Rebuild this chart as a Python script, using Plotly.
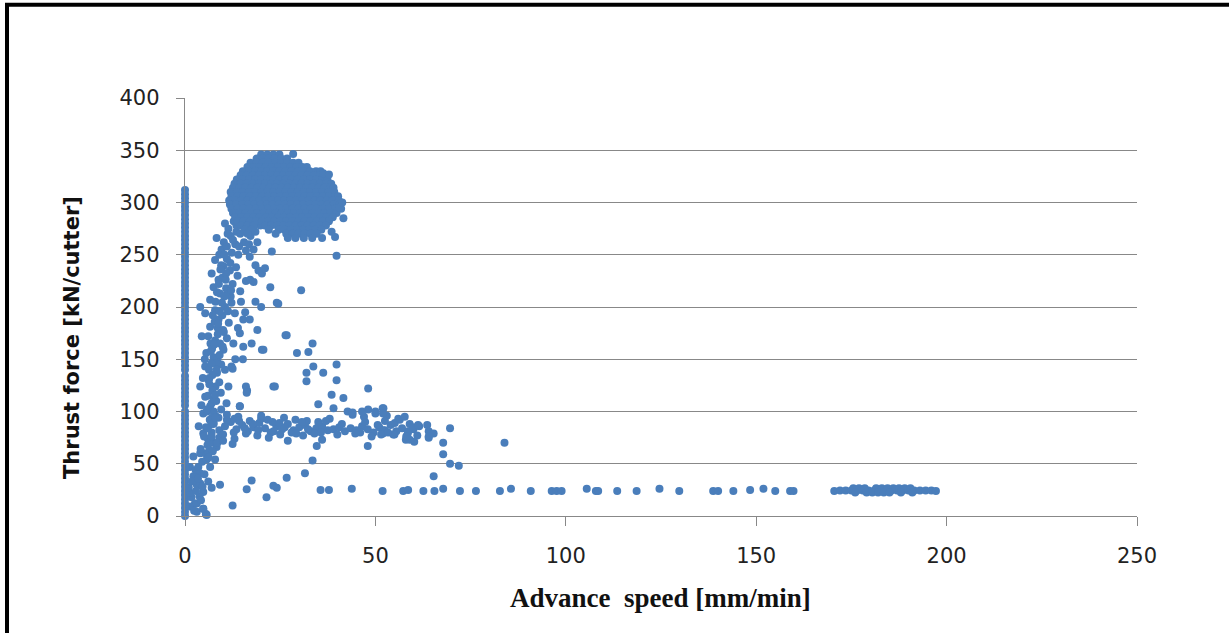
import plotly.graph_objects as go

# ---------------- data ----------------
# vertical column of points at advance speed ~0
col_y = [0, 4, 8, 12, 16, 20, 24, 28, 32, 36, 40, 44, 48, 52, 56, 60, 64, 68, 72, 76,
         80, 84, 88, 92, 96, 100, 106, 110, 114, 118, 122, 126, 130, 134, 140, 144, 148,
         152, 156, 160, 164, 168, 172, 176, 180, 184, 188, 192, 196, 200, 204, 208, 212,
         216, 220, 224, 228, 232, 236, 240, 244, 248, 252, 256, 260, 264, 268, 272, 276,
         280, 284, 288, 292, 296, 300, 304, 308, 312]
col_x = [0.0] * len(col_y)

# rising branch at low speed
branch_x = [1.3, 2.2, 3.1, 3.9, 1.7, 2.6, 4.8, 6.1, 6.6, 7.9, 5.3, 8.3, 3.1, 1.3, 7.4, 4.8, 5.7,
            2.2, 4.0, 1.4, 3.1, 5.5, 6.5, 4.5, 2.8, 9.0, 1.0, 1.8,
            8.3, 10.5, 11.4, 9.6, 7.9, 10.1, 11.8, 7.0, 8.8, 7.5, 9.2, 6.6, 4.0, 5.3, 7.9, 10.5,
            12.2, 13.1, 15.3, 17.0, 14.4, 12.7, 15.3, 8.8, 6.6, 4.4, 7.9, 10.1, 7.5, 5.3, 8.4,
            10.5, 12.2, 6.2, 4.0, 8.0, 11.4, 5.3, 6.6, 4.8, 7.5, 4.8, 6.6, 4.0, 5.7, 3.5,
            6.0, 7.0, 5.8, 6.5, 5.5, 7.0, 6.0, 8.0, 7.2, 9.0, 9.5, 8.5, 6.8, 9.2, 11.0, 10.0,
            8.6, 11.5, 9.8, 12.0, 10.8, 12.5, 9.8, 11.0, 12.3, 13.2, 10.2, 12.0, 13.5, 11.0,
            9.0, 6.3, 5.2, 7.2, 8.2, 7.5, 6.7, 8.0, 11.0, 13.8, 14.5, 16.0, 14.7, 13.9, 15.2,
            13.2, 16.3, 14.4,
            13.5, 14.5, 15.5, 16.0, 17.0, 14.2, 15.8, 17.2, 16.8, 18.5, 19.0, 18.0, 19.8, 12.8,
            14.0, 16.5,
            9.5, 10.8, 8.9, 10.3, 9.1, 7.8, 8.6, 9.9, 7.1, 8.1, 6.4, 9.4, 10.9, 7.6, 8.8, 6.9,
            5.9, 7.3, 6.2, 5.1, 4.6, 3.8, 2.9, 3.4, 4.2, 2.4,
            11.2, 12.6, 10.4, 11.9, 13.4, 9.3, 10.7, 12.1, 8.4, 9.7, 11.3, 7.3, 8.7, 10.2,
            6.1, 7.7, 9.1, 5.6, 6.9, 8.3, 4.7, 6.4, 7.9, 4.3, 5.8, 7.1, 3.6, 5.0, 6.3, 4.1]
branch_y = [47, 57, 30, 41, 18, 12, 23, 33, 47, 54, 60, 66, 4, 9, 70, 7, 1,
            38, 31, 22, 12, 2, 63, 52, 44, 75, 27, 33,
            266, 280, 275, 255, 245, 239, 235, 232, 226, 219, 213, 207, 200, 194, 197, 200,
            204, 194, 188, 188, 175, 165, 162, 188, 181, 172, 168, 159, 152, 143, 137,
            140, 143, 130, 124, 124, 124, 114, 105, 98, 89, 79, 70, 60, 54, 47,
            115, 108, 100, 92, 85, 80, 74, 96, 120, 128, 145, 150, 158, 165, 170, 178,
            180, 185, 192, 210, 218, 222, 228, 246, 252, 260, 262, 268, 272, 258,
            250, 140, 150, 135, 110, 100, 165, 205, 212, 230, 215, 225, 205, 180, 150,
            150, 120, 105,
            278, 270, 262, 254, 248, 258, 276, 268, 260, 272, 262, 255, 278, 282,
            250, 282,
            240, 232, 222, 210, 196, 186, 174, 162, 160, 146, 132, 118, 108, 112, 94, 88,
            68, 62, 56, 40, 28, 19, 24, 36, 15, 5,
            270, 264, 250, 242, 238, 236, 226, 216, 214, 204, 196, 192, 184, 176,
            172, 164, 154, 156, 146, 140, 132, 126, 116, 106, 102, 94, 86, 76, 70, 64]

# dense core at 12-42 mm/min: one x list per thrust level
core_levels = [346, 342, 338, 334, 330, 326, 322, 318, 314, 310, 306, 302, 298, 294,
               290, 286, 282, 278, 274, 270, 266]
core_rows = [
    [20.0, 21.6, 23.2, 24.8],
    [18.8, 20.4, 22.0, 23.6, 25.2, 26.8],
    [17.2, 18.8, 20.4, 22.0, 23.6, 25.2, 26.8, 28.4, 29.8],
    [16.4, 18.0, 19.6, 21.2, 22.8, 24.4, 26.0, 27.6, 29.2, 30.8, 32.0],
    [15.2, 16.8, 18.4, 20.0, 21.6, 23.2, 24.8, 26.4, 28.0, 29.6, 31.2, 32.8, 34.4, 35.6],
    [14.6, 16.2, 17.8, 19.4, 21.0, 22.6, 24.2, 25.8, 27.4, 29.0, 30.6, 32.2, 33.8, 35.4, 36.6],
    [13.6, 15.2, 16.8, 18.4, 20.0, 21.6, 23.2, 24.8, 26.4, 28.0, 29.6, 31.2, 32.8, 34.4, 36.0, 37.4],
    [13.0, 14.6, 16.2, 17.8, 19.4, 21.0, 22.6, 24.2, 25.8, 27.4, 29.0, 30.6, 32.2, 33.8, 35.4, 37.0, 38.4],
    [12.6, 14.2, 15.8, 17.4, 19.0, 20.6, 22.2, 23.8, 25.4, 27.0, 28.6, 30.2, 31.8, 33.4, 35.0, 36.6, 38.2, 39.0],
    [12.0, 13.6, 15.2, 16.8, 18.4, 20.0, 21.6, 23.2, 24.8, 26.4, 28.0, 29.6, 31.2, 32.8, 34.4, 36.0, 37.6, 39.2],
    [12.2, 13.8, 15.4, 17.0, 18.6, 20.2, 21.8, 23.4, 25.0, 26.6, 28.2, 29.8, 31.4, 33.0, 34.6, 36.2, 37.8, 39.4, 40.2],
    [11.6, 13.2, 14.8, 16.4, 18.0, 19.6, 21.2, 22.8, 24.4, 26.0, 27.6, 29.2, 30.8, 32.4, 34.0, 35.6, 37.2, 38.8, 40.4],
    [11.8, 13.4, 15.0, 16.6, 18.2, 19.8, 21.4, 23.0, 24.6, 26.2, 27.8, 29.4, 31.0, 32.6, 34.2, 35.8, 37.4, 39.0, 40.6],
    [12.2, 13.8, 15.4, 17.0, 18.6, 20.2, 21.8, 23.4, 25.0, 26.6, 28.2, 29.8, 31.4, 33.0, 34.6, 36.2, 37.8, 39.4, 41.0],
    [12.6, 14.2, 15.8, 17.4, 19.0, 20.6, 22.2, 23.8, 25.4, 27.0, 28.6, 30.2, 31.8, 33.4, 35.0, 36.6, 38.2, 39.8],
    [13.2, 14.8, 16.4, 18.0, 19.6, 21.2, 22.8, 24.4, 26.0, 27.6, 29.2, 30.8, 32.4, 34.0, 35.6, 37.2, 38.8],
    [13.8, 15.4, 17.0, 18.6, 20.2, 21.8, 23.4, 25.0, 26.6, 28.2, 29.8, 31.4, 33.0, 34.6, 36.2, 37.8],
    [14.8, 16.4, 18.0, 21.0, 22.6, 24.2, 25.8, 27.4, 29.0, 30.6, 32.2, 33.8, 35.4, 37.0],
    [15.6, 17.4, 22.0, 24.6, 26.2, 27.8, 29.4, 31.0, 32.6, 34.2, 35.8],
    [16.4, 23.8, 26.6, 28.2, 29.8, 31.4, 33.0, 34.6],
    [27.0, 29.0, 31.2, 33.4, 36.0],
]
core_extra_x = [28.4, 36.3, 37.8, 41.6, 39.4, 38.5, 40.5, 41.3]
core_extra_y = [346.5, 328, 326.8, 285, 267, 272, 295, 300]

# scattered points between the core and the band
scatter_x = [19.3, 20.2, 17.1, 18.0, 22.4, 24.1, 30.5, 26.4, 20.2, 16.0, 23.2, 24.5, 26.7, 20.6,
             29.4, 32.4, 33.5, 31.9, 31.9, 33.7, 36.3, 39.8, 39.8, 38.5, 41.6, 48.1, 42.7, 23.6,
             16.2, 14.4, 12.5, 22.8, 39.8, 18.5, 21.0, 20.0, 19.0, 17.5, 15.8, 18.5]
scatter_y = [235, 232, 226, 224, 219, 204, 216, 173, 159, 124, 124, 203, 173, 159,
             156, 157, 165, 137, 129, 143, 137, 145, 130, 116, 113, 122, 100, 124,
             118, 105, 141, 253, 249, 240, 237, 200, 178, 165, 195, 205]

# band of points around 80-95 kN
band_x = [6, 7.5, 9, 10.5, 12, 13.5, 15, 16.5, 18, 19.5, 21, 22.5, 24, 25.5, 27, 28.5, 30, 31.5,
          33, 34.5, 36, 37.5, 39, 40.5, 42, 43.5, 45, 46.5, 48, 49.5, 51, 52.5, 54, 55.5, 57,
          58.5, 60, 61.5,
          8, 11, 14, 17, 20, 23, 26, 29, 32, 35, 38, 44, 47, 50, 53, 56, 59,
          7, 10, 13, 16, 19, 22, 25, 28, 31, 34, 40, 46, 49, 52, 55, 58, 61, 64,
          51.9, 52.0, 52.5, 51.5, 54.7, 55.1, 56.4, 57.7, 58.6, 59.9, 61.2, 59.0, 60.2, 58.1,
          63.6, 64.0, 65.3, 64.0, 69.6, 67.8, 67.8, 69.6, 71.9, 65.3, 83.9, 48.1, 52.1, 46.5,
          48.0, 34.6, 33.5, 31.5, 26.7, 24.1, 23.2, 21.4, 17.5, 16.2, 12.5, 7.0, 9.2, 5.5,
          4.8, 52, 50, 44, 39, 35, 11, 9.5, 13, 20, 8.5, 10, 12.5, 27, 36,
          12.8, 14.2, 15.7, 17.8, 19.2, 21.7, 23.3, 24.8, 26.2, 29.2, 30.7, 32.3, 35.7, 37.0,
          41.2, 44.7, 47.3, 50.6, 53.3]
band_y = [84, 88, 82, 86, 90, 83, 87, 81, 85, 89, 84, 80, 86, 83, 88, 82, 85, 87,
          81, 84, 86, 82, 83, 85, 81, 84, 82, 86, 83, 80, 85, 82, 87, 81, 84,
          79, 83, 86,
          94, 92, 95, 91, 93, 90, 94, 92, 91, 90, 93, 97, 95, 98, 96, 93, 88,
          76, 78, 74, 79, 77, 75, 78, 80, 77, 79, 78, 80, 76, 79, 78, 73, 77, 75,
          103, 82, 91, 78, 78, 89, 92, 95, 81, 85, 87, 73, 71, 76,
          87, 81, 79, 76, 84, 70, 59, 50, 48, 38, 70, 102, 103, 100,
          67, 67, 53, 41, 36.5, 27, 29, 18, 34, 25.5, 10, 27, 30, 1.6,
          7, 98, 100, 99, 103, 107, 97, 102, 93, 96, 70, 72, 69, 72, 73,
          80, 91, 84, 88, 82, 92, 81, 89, 85, 79, 90, 83, 80, 91,
          88, 79, 90, 87, 80]

# long tail at ~25 kN
tail_x = [35.6, 37.8, 43.8, 51.9, 57.3, 58.6, 62.6, 65.5, 67.8, 72.2, 76.4, 82.7, 85.6, 90.8,
          96.3, 97.6, 98.9, 105.5, 107.9, 108.5, 113.5, 118.6, 124.6, 129.8, 138.7, 140.0,
          144.0, 148.4, 151.9, 155.0, 158.9, 159.8]
tail_y = [25, 25, 26, 24, 24, 25, 24, 24, 26, 24, 24, 24, 26, 24,
          24, 24, 24, 26, 24, 24, 24, 24, 26, 24, 24, 24,
          24, 25, 26, 24, 24, 24]

# cluster at 170-197 mm/min
far_x = [170.5, 172, 173.5, 175, 176.5, 178, 179.5, 181, 182.5, 184, 185.5, 187, 188.5, 190,
         191.5, 193, 194.5, 196, 197.2,
         175.5, 177, 178.5, 181.5, 183, 184.5, 186, 187.5, 189, 190.5,
         176, 179, 180.5, 182, 183.5, 185, 188, 191]
far_y = [24, 24.5, 24.5, 24.5, 24.5, 24.5, 24.5, 24.5, 24.5, 24.5, 24.5, 24.5, 24.5, 24.5,
         24.5, 24.5, 24.5, 24.5, 24,
         26.5, 26.5, 26.5, 26.5, 26.5, 26.5, 26.5, 26.5, 26.5, 26.5,
         22.5, 22.5, 22.5, 22.5, 22.5, 22.5, 22.5, 22.5]

x_ticks = [0, 50, 100, 150, 200, 250]
y_ticks = [0, 50, 100, 150, 200, 250, 300, 350, 400]

# ---------------- assemble ----------------
core_x, core_y = [], []
for lvl, row in zip(core_levels, core_rows):
    core_x += row
    core_y += [lvl] * len(row)
core_x += core_extra_x
core_y += core_extra_y

all_x = col_x + branch_x + core_x + scatter_x + band_x + tail_x + far_x
all_y = col_y + branch_y + core_y + scatter_y + band_y + tail_y + far_y

BLUE = "#4A7EBB"
GRID = "#888888"

fig = go.Figure()
fig.add_trace(go.Scatter(
    x=all_x, y=all_y, mode="markers",
    marker=dict(color=BLUE, size=8, line=dict(width=0)),
    showlegend=False, cliponaxis=False,
))

L, R, T, B = 185, 1137, 98, 516
W, H = 1229, 633

fig.update_layout(
    width=W, height=H,
    margin=dict(l=L, r=W - R, t=T, b=H - B, pad=0),
    paper_bgcolor="white", plot_bgcolor="white",
    xaxis=dict(
        range=[0, 250], tickvals=x_ticks, ticktext=[str(v) for v in x_ticks],
        showgrid=False, zeroline=False,
        showline=True, linecolor=GRID, linewidth=1.4,
        ticks="outside", ticklen=9, tickwidth=1.4, tickcolor=GRID,
        tickfont=dict(family="DejaVu Sans", size=21, color="#222222"),
        ticklabelstandoff=12,
    ),
    yaxis=dict(
        range=[0, 400], tickvals=y_ticks, ticktext=[str(v) for v in y_ticks],
        showgrid=True, gridcolor=GRID, gridwidth=1.4, zeroline=False,
        showline=True, linecolor=GRID, linewidth=1.4,
        ticks="outside", ticklen=8, tickwidth=1.4, tickcolor=GRID,
        tickfont=dict(family="DejaVu Sans", size=21, color="#222222"),
        ticklabelstandoff=12,
    ),
    font=dict(family="DejaVu Sans"),
)

pw, ph = R - L, B - T
def px(xp):
    return (xp - L) / pw
def py(yp):
    return (B - yp) / ph

fig.add_annotation(
    text="<b>Advance  speed [mm/min]</b>", xref="paper", yref="paper",
    x=px(660), y=py(598), showarrow=False, xanchor="center", yanchor="middle",
    font=dict(family="Liberation Serif", size=27, color="#111111"),
)
fig.add_annotation(
    text="<b>Thrust force [kN/cutter]</b>", xref="paper", yref="paper",
    x=px(72), y=py(338), showarrow=False, xanchor="center", yanchor="middle",
    textangle=-90,
    font=dict(family="DejaVu Sans", size=21, color="#111111"),
)

# black frame (top and left edges)
fig.add_shape(type="line", xref="paper", yref="paper",
              x0=px(5), x1=px(1240), y0=py(4.7), y1=py(4.7),
              line=dict(color="black", width=4))
fig.add_shape(type="line", xref="paper", yref="paper",
              x0=px(7), x1=px(7), y0=py(3), y1=py(645),
              line=dict(color="black", width=4))

fig.write_html("out.html")
